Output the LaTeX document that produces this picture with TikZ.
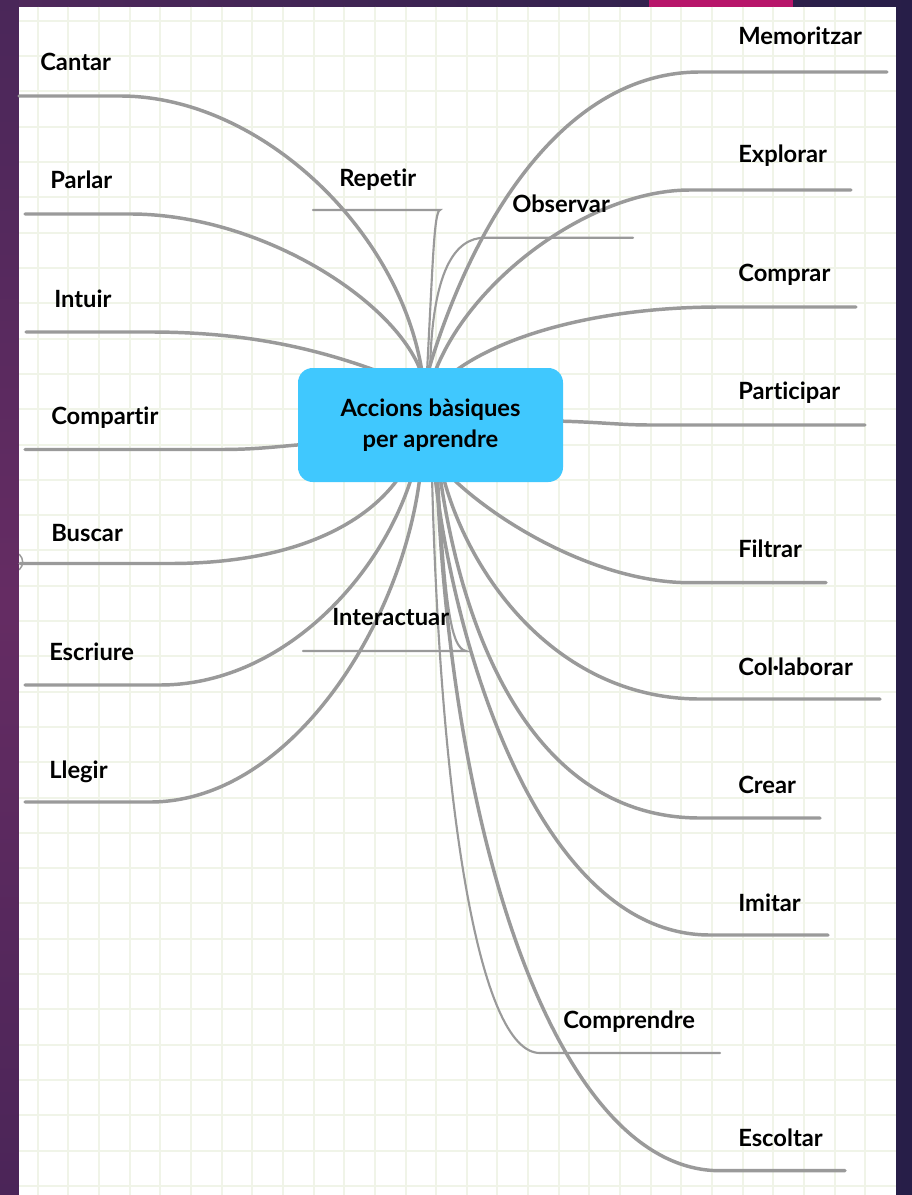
\documentclass[tikz,border=0pt]{standalone}
\usepackage{fontspec}
\setmainfont{Lato}[Ligatures=NoCommon,RawFeature=-liga]
\definecolor{bgl}{HTML}{50295C}
\definecolor{bgr}{HTML}{271E48}
\definecolor{stripT}{HTML}{4A2759}
\definecolor{stripM}{HTML}{652C63}
\definecolor{stripB}{HTML}{4B2558}
\definecolor{pinkc}{HTML}{B7156A}
\definecolor{gridc}{HTML}{F0F4E8}
\definecolor{linec}{HTML}{9A9A9A}
\definecolor{boxc}{HTML}{40C8FE}
\newcommand\mmbranch[7]{%
  \coordinate (#1-o) at (#3);
  \coordinate (#1-a) at (#4);
  \coordinate (#1-e) at (#7);
  \draw[#2] (#1-o) -- (#1-a) .. controls (#5) and (#6) .. (#1-e);}
\begin{document}
\begin{tikzpicture}[x=0.75pt,y=-0.75pt,
  br/.style={draw=linec,line width=2.6pt,line cap=round},
  thin/.style={draw=linec,line width=1.6pt,line cap=round},
  lab/.style={anchor=base west,inner sep=0pt,font=\fontsize{17.8}{20}\selectfont\bfseries},
  cbox/.style={fill=boxc,rounded corners=11pt,minimum width=198.75pt,minimum height=85.5pt,
    align=center,inner sep=0pt,font=\fontsize{17.8}{23.25}\selectfont\bfseries}]
\useasboundingbox (0,0) rectangle (912,1195);
% background frame
\shade[left color=bgl,right color=bgr] (0,0) rectangle (912,1195);
\shade[top color=stripT,bottom color=stripB,middle color=stripM] (0,0) rectangle (19,1195);
\fill[pinkc] (649,0) rectangle (793,6.7);
% paper
\fill[white] (19,6.7) rectangle (896,1195);
\begin{scope}
\clip (19,6.7) rectangle (896,1195);
\foreach \i in {0,...,27} \draw[gridc,line width=1.5pt] (37.7+30.65*\i,6.7) -- ++(0,1190);
\foreach \k in {0,...,33} \draw[gridc,line width=1.5pt] (19,20.9+35.3*\k) -- ++(877,0);
\draw[linec,line width=1.1pt] (12.7,562) circle (10);
\end{scope}
% branches, left
\mmbranch{cantar}{br}{19,96}{120,96}{260,96}{400,230}{422,372}
\mmbranch{parlar}{br}{25,214}{130,214}{260,214}{395,300}{421,372}
\mmbranch{intuir}{br}{26,332}{150,332}{250,332}{320,350}{380,372}
\mmbranch{compartir}{br}{25,449.5}{220,449.5}{260,449.5}{280,446}{310,444}
\mmbranch{buscar}{br}{20,563.5}{170,563.5}{300,563.5}{370,520}{400,476}
\mmbranch{escriure}{br}{25,685}{160,685}{280,685}{380,580}{412,476}
\mmbranch{llegir}{br}{25,802}{150,802}{290,802}{402,625}{420,476}
% branches, right
\mmbranch{memoritzar}{br}{887,72}{700,72}{560,72}{470,230}{428,372}
\mmbranch{explorar}{br}{851,190}{690,190}{590,190}{470,280}{435,372}
\mmbranch{comprar}{br}{856,307}{720,307}{600,307}{500,335}{450,375}
\mmbranch{participar}{br}{865,425}{650,425}{620,425}{600,422}{555,421}
\mmbranch{filtrar}{br}{826,582.7}{690,582.7}{600,582.7}{500,525}{450,476}
\mmbranch{collaborar}{br}{880,699}{700,699}{560,699}{470,580}{443,476}
\mmbranch{crear}{br}{820,818}{700,818}{540,818}{465,650}{440,476}
\mmbranch{imitar}{br}{828,935}{710,935}{540,935}{455,650}{435,476}
\mmbranch{escoltar}{br}{845,1170.7}{720,1170.7}{560,1170.7}{452,850}{437,476}
% thin floating branches
\mmbranch{comprendre}{thin}{720,1053}{540,1053}{478,1053}{440,800}{432,476}
\mmbranch{repetir}{thin}{313,210}{440,210}{434,212}{433,260}{427,372}
\mmbranch{observar}{thin}{633,237.7}{485,237.7}{455,237.7}{432,270}{430,372}
\mmbranch{interactuar}{thin}{303,651}{466,651}{450,648}{445,600}{438,476}
% central node
\node[cbox] (c) at (430.5,425) {Accions bàsiques\\per aprendre};
% labels
\node[lab] (l-cantar) at (40,71) {Cantar};
\node[lab] (l-parlar) at (50,189) {Parlar};
\node[lab] (l-intuir) at (54,307) {Intuir};
\node[lab] (l-compartir) at (51,424) {Compartir};
\node[lab] (l-buscar) at (51,541) {Buscar};
\node[lab] (l-escriure) at (49,660) {Escriure};
\node[lab] (l-llegir) at (49,778) {Llegir};
\node[lab] (l-repetir) at (339,186) {Repetir};
\node[lab] (l-observar) at (512,212) {Observar};
\node[lab] (l-interactuar) at (332,625) {Interactuar};
\node[lab] (l-comprendre) at (563,1028) {Comprendre};
\node[lab] (l-memoritzar) at (738,45) {Memoritzar};
\node[lab] (l-explorar) at (738,163) {Explorar};
\node[lab] (l-comprar) at (738,281) {Comprar};
\node[lab] (l-participar) at (738,399) {Participar};
\node[lab] (l-filtrar) at (738,557) {Filtrar};
\node[lab] (l-collaborar) at (738,675) {Col·laborar};
\node[lab] (l-crear) at (738,793) {Crear};
\node[lab] (l-imitar) at (738,911) {Imitar};
\node[lab] (l-escoltar) at (738,1146) {Escoltar};
\end{tikzpicture}
\end{document}
